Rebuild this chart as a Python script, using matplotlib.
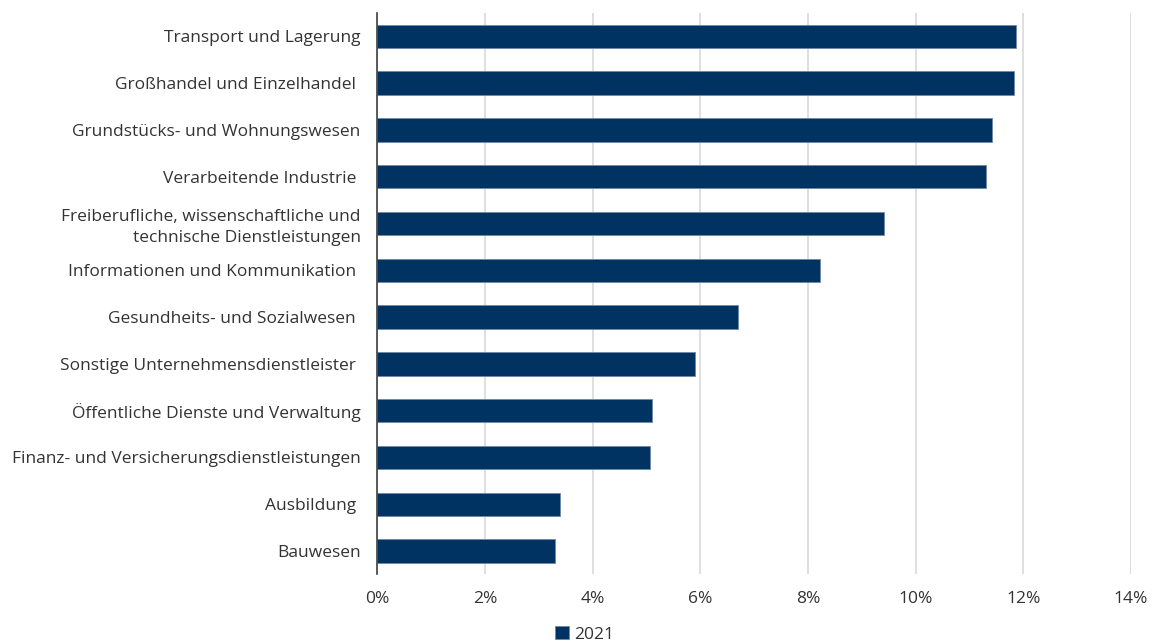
import matplotlib.pyplot as plt
from matplotlib.ticker import FuncFormatter

# Anteil je Wirtschaftszweig, 2021
branchen = [
    "Transport und Lagerung",
    "Großhandel und Einzelhandel ",
    "Grundstücks- und Wohnungswesen",
    "Verarbeitende Industrie ",
    "Freiberufliche, wissenschaftliche und\ntechnische Dienstleistungen",
    "Informationen und Kommunikation ",
    "Gesundheits- und Sozialwesen ",
    "Sonstige Unternehmensdienstleister ",
    "Öffentliche Dienste und Verwaltung",
    "Finanz- und Versicherungsdienstleistungen",
    "Ausbildung ",
    "Bauwesen",
]
werte_2021 = [11.86, 11.83, 11.41, 11.31, 9.41, 8.22, 6.71, 5.91, 5.11, 5.06, 3.40, 3.31]
x_ticks = [0, 2, 4, 6, 8, 10, 12, 14]

plt.rcParams['font.family'] = ['Open Sans', 'DejaVu Sans']
text_col = '#333333'
fs = 12.5

fig = plt.figure(figsize=(11.57, 6.44), dpi=100)
ax = fig.add_axes([0.326, 0.108, 0.6515, 0.872])

pos = list(range(len(branchen)))
ax.barh(pos, werte_2021, height=0.5, color='#003361', edgecolor='#6f88a8',
        linewidth=0.6, label='2021', zorder=3)

ax.set_ylim(len(branchen) - 0.5, -0.5)
ax.set_yticks(pos)
ax.set_yticklabels(branchen, fontsize=fs, color=text_col, linespacing=1.4)
ax.tick_params(axis='y', length=0, pad=12)

ax.set_xlim(0, 14)
ax.set_xticks(x_ticks)
ax.xaxis.set_major_formatter(FuncFormatter(lambda v, p: f"{v:.0f}%"))
ax.tick_params(axis='x', length=0, pad=12, labelsize=fs, labelcolor=text_col)

ax.grid(axis='x', color='#d9d9d9', linewidth=1.2, zorder=0)
for s in ['top', 'right', 'bottom']:
    ax.spines[s].set_visible(False)
ax.spines['left'].set_color('#404040')
ax.spines['left'].set_linewidth(1.2)
ax.spines['left'].set_zorder(4)

leg = fig.legend(loc='lower center', bbox_to_anchor=(0.505, -0.022), frameon=False,
                 fontsize=fs, handlelength=0.8, handleheight=0.8, handletextpad=0.3)
for t in leg.get_texts():
    t.set_color(text_col)

fig.savefig('out.png', dpi=100)
